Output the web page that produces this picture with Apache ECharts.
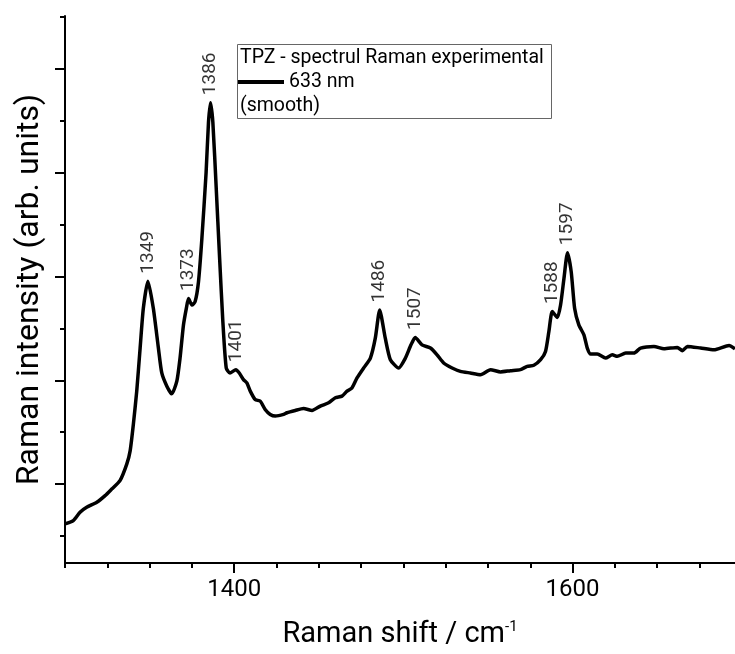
<!DOCTYPE html>
<html>
<head>
<meta charset="utf-8">
<title>TPZ Raman</title>
<script src="https://cdn.jsdelivr.net/npm/echarts@6/dist/echarts.min.js"></script>
<style>
  html, body { margin: 0; padding: 0; background: #fff; }
  #chart { width: 735px; height: 654px; }
</style>
</head>
<body>
<div id="chart"></div>
<script>
// Raman shift (cm-1) and smoothed intensity (arb. units)
const shift = [
  1300, 1304.9, 1308.9, 1312.8, 1318.8, 1323.7, 1327.6, 1332.5, 1336.5, 1338.5,
  1340.4, 1342.4, 1344.4, 1346.3, 1349, 1352.2, 1355.2, 1357.2, 1360.2, 1363.1,
  1366.1, 1368.0, 1370.0, 1371.8, 1373, 1375.0, 1376.9, 1378.9, 1380.9, 1383.4,
  1384.8, 1386, 1387.4, 1389.4, 1391.3, 1393.3, 1395.3, 1397.5, 1401, 1403,
  1405.5, 1407.5, 1409.5, 1412.4, 1415.4, 1418.3, 1421.3, 1424.3, 1429.2, 1431.2,
  1436.1, 1441.0, 1446.0, 1450.9, 1455.8, 1459.8, 1463.7, 1466.7, 1469.6, 1472.6,
  1476.5, 1480.5, 1483.4, 1486, 1489.3, 1492.3, 1497.2, 1501.2, 1504.5, 1507,
  1511, 1516.0, 1519.9, 1523.8, 1528.8, 1533.7, 1539.6, 1545.6, 1551.5, 1557.4,
  1563.3, 1569.2, 1573.2, 1577.1, 1581.1, 1584.0, 1586.0, 1588, 1591.0, 1592.9,
  1594.9, 1597, 1599.2, 1601.2, 1603.7, 1606.7, 1608.7, 1610.7, 1614.6, 1619.5,
  1623.5, 1626.4, 1631.4, 1636.3, 1640.2, 1648.1, 1654.0, 1661.9, 1664.9, 1667.9,
  1675.7, 1683.6, 1692.5, 1696
]
const intensity = [
  617, 649, 729, 777, 825, 889, 952, 1033, 1192, 1320,
  1575, 1895, 2310, 2693, 2954, 2693, 2310, 2070, 1943, 1869,
  1991, 2214, 2530, 2700, 2787, 2724, 2757, 2949, 3364, 4002,
  4481, 4673, 4481, 3842, 3203, 2565, 2118, 2070, 2102, 2070,
  2006, 1974, 1895, 1814, 1799, 1719, 1671, 1655, 1671, 1687,
  1709, 1728, 1709, 1751, 1783, 1831, 1847, 1895, 1926, 2022,
  2118, 2214, 2405, 2677, 2405, 2198, 2118, 2214, 2341, 2412,
  2341, 2310, 2245, 2166, 2118, 2086, 2070, 2054, 2102, 2080,
  2092, 2102, 2134, 2144, 2198, 2278, 2470, 2661, 2604, 2724,
  2980, 3229, 3044, 2693, 2533, 2437, 2310, 2252, 2252, 2214,
  2245, 2230, 2262, 2262, 2310, 2326, 2303, 2316, 2284, 2326,
  2310, 2293, 2335, 2303
]
const peakLabels = ['1349', '1373', '1386', '1401', '1486', '1507', '1588', '1597']

const xMajorTicks = [1400, 1600]
const xMinorTicks = [1300, 1325, 1350, 1375, 1425, 1450, 1475, 1500, 1525, 1550, 1575, 1625, 1650, 1675]
const yMajorTicks = [1000, 2000, 3000, 4000, 5000]
const yMinorTicks = [500, 1500, 2500, 3500, 4500, 5500]

const FONT = 'Roboto'

const chart = echarts.init(document.getElementById('chart'))

const lineData = shift.map((x, i) => [x, intensity[i]])
const peakData = peakLabels.map(p => {
  const x = Number(p)
  return { name: p, value: [x, intensity[shift.indexOf(x)]] }
})

const xBase = {
  type: 'value',
  min: 1300,
  max: 1696,
  position: 'bottom',
  splitLine: { show: false }
}
const yBase = {
  type: 'value',
  min: 240,
  max: 5508,
  position: 'left',
  splitLine: { show: false },
  axisLabel: { show: false }
}

chart.setOption({
  backgroundColor: '#fff',
  animation: false,
  grid: { left: 65, right: 0, top: 16, bottom: 88 },
  legend: {
    left: 238,
    top: 72,
    padding: 0,
    icon: 'rect',
    itemWidth: 46,
    itemHeight: 4,
    data: ['633 nm'],
    textStyle: { fontFamily: FONT, fontSize: 19.5, color: '#000' }
  },
  xAxis: [
    Object.assign({}, xBase, {
      name: '{a|Raman shift / cm}{s|-1}',
      nameLocation: 'middle',
      nameGap: 57,
      nameTextStyle: {
        rich: {
          a: { fontFamily: FONT, fontSize: 29, color: '#000' },
          s: { fontFamily: FONT, fontSize: 15, color: '#000', verticalAlign: 'top', padding: [0, 0, 14, 0] }
        }
      },
      axisLine: { lineStyle: { color: '#000', width: 2 } },
      axisTick: { customValues: xMajorTicks, length: 10, lineStyle: { color: '#000', width: 2 } },
      axisLabel: {
        customValues: xMajorTicks,
        margin: 15,
        formatter: v => String(v),
        fontFamily: FONT,
        fontSize: 24,
        color: '#000'
      }
    }),
    Object.assign({}, xBase, {
      axisLine: { show: false },
      axisTick: { customValues: xMinorTicks, length: 5, lineStyle: { color: '#000', width: 2 } },
      axisLabel: { show: false }
    })
  ],
  yAxis: [
    Object.assign({}, yBase, {
      name: 'Raman intensity (arb. units)',
      nameLocation: 'middle',
      nameRotate: 90,
      nameGap: 19,
      nameTextStyle: { fontFamily: FONT, fontSize: 32, color: '#000' },
      axisLine: { lineStyle: { color: '#000', width: 2 } },
      axisTick: { customValues: yMajorTicks, length: 10, lineStyle: { color: '#000', width: 2 } }
    }),
    Object.assign({}, yBase, {
      axisLine: { show: false },
      axisTick: { customValues: yMinorTicks, length: 5, lineStyle: { color: '#000', width: 2 } }
    })
  ],
  graphic: [
    {
      type: 'rect',
      shape: { x: 237.5, y: 44.5, width: 314, height: 74 },
      style: { fill: 'rgba(255,255,255,0)', stroke: '#666', lineWidth: 1 },
      z: 0
    },
    {
      type: 'text',
      x: 240, y: 58,
      style: { text: 'TPZ - spectrul Raman experimental', fontFamily: FONT, fontSize: 19.5, fill: '#000', verticalAlign: 'middle' }
    },
    {
      type: 'text',
      x: 240, y: 106,
      style: { text: '(smooth)', fontFamily: FONT, fontSize: 19.5, fill: '#000', verticalAlign: 'middle' }
    }
  ],
  series: [
    {
      name: '633 nm',
      type: 'line',
      data: lineData,
      showSymbol: false,
      smooth: 0.2,
      color: '#000',
      lineStyle: { color: '#000', width: 3.5 }
    },
    {
      name: 'peaks',
      type: 'scatter',
      data: peakData,
      symbolSize: 1,
      silent: true,
      itemStyle: { color: 'rgba(0,0,0,0)' },
      label: {
        show: true,
        formatter: '{b}',
        position: 'top',
        distance: 7,
        rotate: 90,
        align: 'left',
        verticalAlign: 'middle',
        fontFamily: FONT,
        fontSize: 19,
        color: '#000'
      }
    }
  ]
})
</script>
</body>
</html>
